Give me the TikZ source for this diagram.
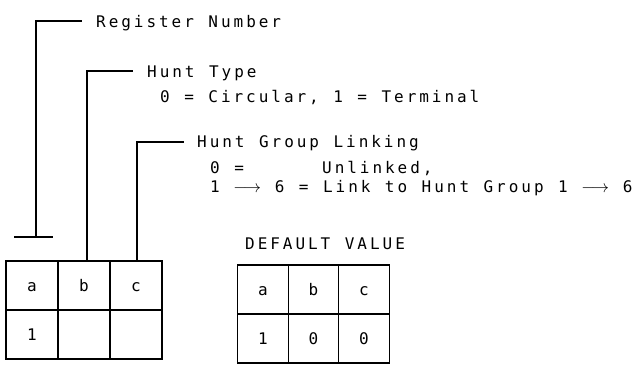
\documentclass[tikz,border=0pt]{standalone}
\usepackage{fontspec}
\setmainfont{DejaVu Sans Mono}[LetterSpace=18.5]
\newcommand{\harr}{\makebox[26pt]{$\longrightarrow$}}
\begin{document}
\begin{tikzpicture}[x=1pt,y=-1pt,
  txt/.style={font={\fontsize{16}{18}\selectfont\spaceskip=14.5pt plus 0pt minus 0pt\relax}},
  lbl/.style={txt,anchor=base west,inner sep=0pt,text height=11.5pt,text depth=0pt},
  cellb/.style={txt,draw,line width=1.3pt,minimum height=49pt,inner sep=0pt,text height=11pt,text depth=0pt},
  lcell/.style={cellb,minimum width=52pt},
  rcell/.style={cellb,minimum width=50.5pt},
  lead/.style={line width=1.2pt}]
\useasboundingbox (0,0) rectangle (639,371);
% left table
\node[lcell] (la) at (32,285.5) {a};
\node[lcell] (lb) at (84,285.5) {b};
\node[lcell] (lc) at (136,285.5) {c};
\node[lcell] (l1) at (32,334.5) {1};
\node[lcell] (l2) at (84,334.5) {};
\node[lcell] (l3) at (136,334.5) {};
% right table
\node[lbl] (dv) at (245,249) {DEFAULT VALUE};
\node[rcell] (ra) at (263,289.5) {a};
\node[rcell] (rb) at (313.5,289.5) {b};
\node[rcell] (rc) at (364,289.5) {c};
\node[rcell] (r1) at (263,338.5) {1};
\node[rcell] (r2) at (313.5,338.5) {0};
\node[rcell] (r3) at (364,338.5) {0};
% labels
\node[lbl] (rn) at (96,28) {Register Number};
\node[lbl] (ht) at (147,78) {Hunt Type};
\node[lbl] (ht2) at (160,103) {0 = Circular, 1 = Terminal};
\node[lbl] (hg) at (197,148) {Hunt Group Linking};
\node[lbl] (hg0) at (210,174) {0 =};
\node[lbl] (hgu) at (322,174) {Unlinked,};
\node[lbl] (hg1) at (210,193) {1 \harr{} 6 = Link to Hunt Group 1 \harr{} 6};
% leaders
\coordinate (tbar) at (36,237);
\draw[lead] (14,237) -- (53,237);
\draw[lead] (tbar) |- ([xshift=-14pt,yshift=7pt]rn.base west);
\draw[lead] (lb.north -| 87,0) |- ([xshift=-14pt,yshift=7pt]ht.base west);
\draw[lead] (lc.north -| 137,0) |- ([xshift=-13pt,yshift=6pt]hg.base west);
\end{tikzpicture}
\end{document}
